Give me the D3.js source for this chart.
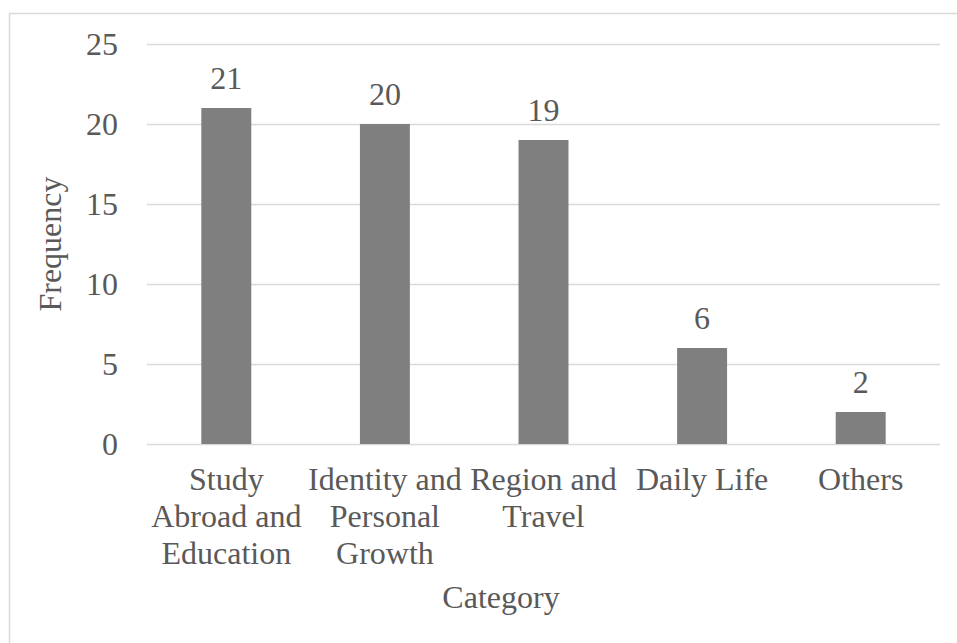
<!DOCTYPE html>
<html>
<head>
<meta charset="utf-8">
<script src="https://cdn.jsdelivr.net/npm/d3@7"></script>
<style>
  html, body { margin: 0; padding: 0; background: #fff; }
  svg { display: block; font-family: "Liberation Serif", "Times New Roman", serif; }
</style>
</head>
<body>
<svg id="chart"></svg>
<script>
// data
const categories = ["Study Abroad and Education", "Identity and Personal Growth", "Region and Travel", "Daily Life", "Others"];
const frequency = [21, 20, 19, 6, 2];
const yTicks = [0, 5, 10, 15, 20, 25];
const xTitle = "Category";
const yTitle = "Frequency";

const width = 957;
const height = 643;
const margin = {top: 44, right: 17, bottom: 199, left: 147};
const textColor = "#595959";
const gridColor = "#d9d9d9";
const fontSize = 32;

const svg = d3.select("#chart")
    .attr("width", width)
    .attr("height", height)
    .attr("viewBox", [0, 0, width, height]);

// chart border (cut off at right/bottom in the reference)
svg.append("rect")
    .attr("x", 9.5)
    .attr("y", 13.5)
    .attr("width", width + 40)
    .attr("height", height + 40)
    .attr("fill", "#fff")
    .attr("stroke", gridColor)
    .attr("stroke-width", 1.5);

const x = d3.scaleBand()
    .domain(categories)
    .range([margin.left, width - margin.right])
    .paddingInner(0.685)
    .paddingOuter(0.3425);

const y = d3.scaleLinear()
    .domain([0, 25])
    .range([height - margin.bottom, margin.top]);

// gridlines + y tick labels
const yAxis = g => g
    .attr("transform", `translate(${margin.left},0)`)
    .call(d3.axisLeft(y)
        .tickValues(yTicks)
        .tickSize(-(width - margin.left - margin.right))
        .tickPadding(29))
    .call(g => g.select(".domain").remove())
    .call(g => g.selectAll(".tick line")
        .attr("stroke", gridColor)
        .attr("stroke-width", 1.5))
    .call(g => g.selectAll(".tick text")
        .attr("fill", textColor)
        .attr("font-size", fontSize)
        .attr("font-family", "Liberation Serif"));

svg.append("g").call(yAxis);

const data = categories.map((c, i) => ({name: c, value: frequency[i]}));

svg.append("g")
    .attr("fill", "#7f7f7f")
  .selectAll("rect")
  .data(data)
  .join("rect")
    .attr("x", d => x(d.name))
    .attr("y", d => y(d.value))
    .attr("width", x.bandwidth())
    .attr("height", d => y(0) - y(d.value));

// value labels
svg.append("g")
    .attr("fill", textColor)
    .attr("font-size", fontSize)
    .attr("text-anchor", "middle")
  .selectAll("text")
  .data(data)
  .join("text")
    .attr("x", d => x(d.name) + x.bandwidth() / 2)
    .attr("y", d => y(d.value) - 19)
    .text(d => d.value);

// category labels, word-wrapped to the band step like Excel does
const lineHeight = 37;
const xLabels = svg.append("g")
    .attr("fill", textColor)
    .attr("font-size", fontSize)
    .attr("text-anchor", "middle")
  .selectAll("text")
  .data(categories)
  .join("text")
    .attr("x", d => x(d) + x.bandwidth() / 2)
    .attr("y", y(0) + 46);

xLabels.each(function(d) {
  const text = d3.select(this);
  const cx = +text.attr("x");
  const words = d.split(" ");
  let line = [];
  let tspan = text.append("tspan").attr("x", cx).attr("dy", 0);
  for (const w of words) {
    line.push(w);
    tspan.text(line.join(" "));
    if (tspan.node().getComputedTextLength() > x.step() - 2 && line.length > 1) {
      line.pop();
      tspan.text(line.join(" "));
      line = [w];
      tspan = text.append("tspan").attr("x", cx).attr("dy", lineHeight).text(w);
    }
  }
});

// axis titles
svg.append("text")
    .attr("x", 501)
    .attr("y", 608)
    .attr("fill", textColor)
    .attr("font-size", fontSize)
    .attr("text-anchor", "middle")
    .text(xTitle);

svg.append("text")
    .attr("transform", `translate(61,${(y(0) + y(25)) / 2}) rotate(-90)`)
    .attr("fill", textColor)
    .attr("font-size", fontSize)
    .attr("text-anchor", "middle")
    .text(yTitle);
</script>
</body>
</html>
